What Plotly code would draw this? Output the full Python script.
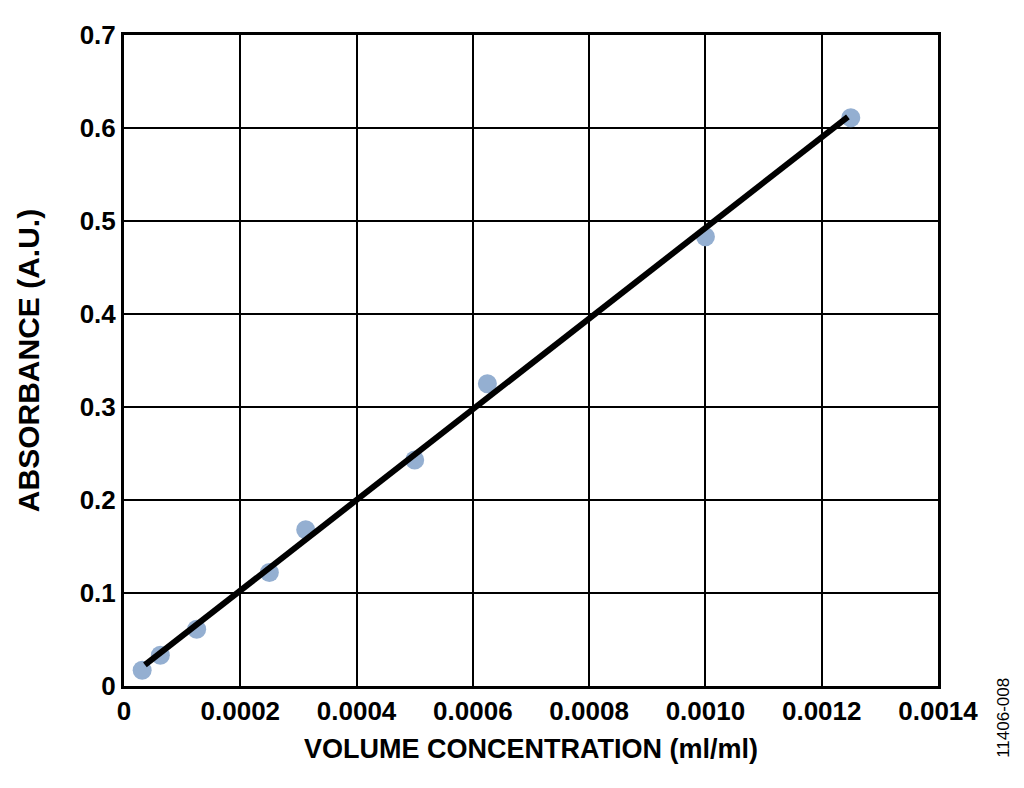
import plotly.graph_objects as go

# measured points
conc = [0.00003125, 0.0000625, 0.000125, 0.00025, 0.0003125, 0.0005, 0.000625, 0.001, 0.00125]
absorb = [0.017, 0.033, 0.061, 0.122, 0.168, 0.243, 0.325, 0.483, 0.611]

# linear fit endpoints
fit_x = [0.000036, 0.001245]
fit_y = [0.0226, 0.612]

x_ticks = [0, 0.0002, 0.0004, 0.0006, 0.0008, 0.0010, 0.0012, 0.0014]
x_labels = ["0", "0.0002", "0.0004", "0.0006", "0.0008", "0.0010", "0.0012", "0.0014"]
y_ticks = [0, 0.1, 0.2, 0.3, 0.4, 0.5, 0.6, 0.7]
y_labels = ["0", "0.1", "0.2", "0.3", "0.4", "0.5", "0.6", "0.7"]

fig = go.Figure()
fig.add_trace(go.Scatter(
    x=conc, y=absorb, mode="markers",
    marker=dict(color="#94afd1", size=19, line=dict(width=0)),
    showlegend=False,
))
fig.add_trace(go.Scatter(
    x=fit_x, y=fit_y, mode="lines",
    line=dict(color="black", width=6),
    showlegend=False,
))

font = "Liberation Sans, Arial, sans-serif"
fig.update_xaxes(
    range=[0, 0.0014], tickvals=x_ticks, ticktext=x_labels,
    showgrid=True, gridcolor="black", gridwidth=2,
    showline=True, linecolor="black", linewidth=3, mirror=True,
    zeroline=False, ticks="",
    tickfont=dict(family=font, size=26, color="black", weight="bold"),
    title=dict(text="<b>VOLUME CONCENTRATION (ml/ml)</b>", standoff=14,
               font=dict(family=font, size=27, color="black")),
)
fig.update_yaxes(
    range=[0, 0.7], tickvals=y_ticks, ticktext=y_labels,
    showgrid=True, gridcolor="black", gridwidth=2,
    showline=True, linecolor="black", linewidth=3, mirror=True,
    zeroline=False, ticks="", automargin=False,
    tickfont=dict(family=font, size=26, color="black", weight="bold"),
    title=dict(text="<b>ABSORBANCE (A.U.)</b>", standoff=32,
               font=dict(family=font, size=30, color="black")),
)
fig.update_layout(
    width=1024, height=788,
    margin=dict(l=116, r=94, t=27, b=110),
    plot_bgcolor="white", paper_bgcolor="white",
    annotations=[dict(
        text="11406-008", xref="paper", yref="paper", x=1.081, y=-0.049,
        xanchor="center", yanchor="middle", textangle=-90, showarrow=False,
        font=dict(family=font, size=17, color="black"),
    )],
)
fig.write_html("out.html")
